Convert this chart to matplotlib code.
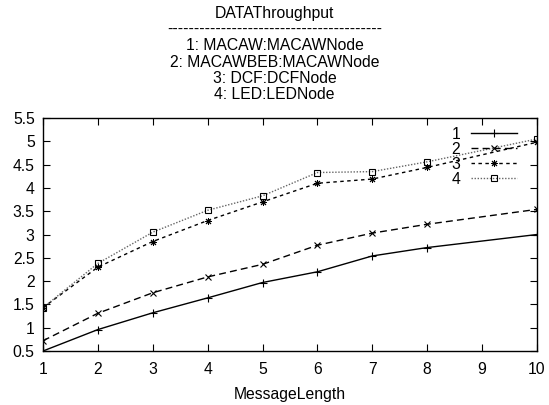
import matplotlib
matplotlib.use("Agg")
import matplotlib.pyplot as plt

plt.rcParams['font.family'] = ['Liberation Sans', 'DejaVu Sans']

# message length on the x axis (no run at 9)
message_length = [1, 2, 3, 4, 5, 6, 7, 8, 10]

# throughput for each MAC protocol
macaw = [0.50, 0.96, 1.32, 1.64, 1.97, 2.20, 2.54, 2.72, 3.00]
macawbeb = [0.72, 1.31, 1.75, 2.09, 2.36, 2.77, 3.03, 3.22, 3.54]
dcf = [1.43, 2.30, 2.85, 3.30, 3.70, 4.10, 4.19, 4.44, 4.98]
led = [1.43, 2.38, 3.05, 3.52, 3.83, 4.33, 4.35, 4.56, 5.05]

series_labels = ["1", "2", "3", "4"]
title_lines = [
    "DATAThroughput",
    "-" * 40,
    "1: MACAW:MACAWNode",
    "2: MACAWBEB:MACAWNode",
    "3: DCF:DCFNode",
    "4: LED:LEDNode",
]
y_ticks = [0.5, 1, 1.5, 2, 2.5, 3, 3.5, 4, 4.5, 5, 5.5]
x_ticks = [1, 2, 3, 4, 5, 6, 7, 8, 9, 10]

FS = 11.3

fig = plt.figure(figsize=(5.49, 4.05), dpi=100)
ax = fig.add_axes([0.0783, 0.1333, 0.8997, 0.5753])

ax.plot(message_length, macaw, color="black", lw=1.0, ls="-",
        marker="+", ms=6, mew=0.8, label=series_labels[0])
ax.plot(message_length, macawbeb, color="black", lw=1.0, ls=(0, (5, 3)),
        marker="x", ms=5, mew=0.8, label=series_labels[1])
ax.plot(message_length, dcf, color="black", lw=1.0, ls=(0, (2.5, 2.5)),
        marker=(8, 2, 0), ms=5, mew=0.7, label=series_labels[2])
ax.plot(message_length, led, color="#666666", lw=1.0, ls=(0, (1, 1.2)),
        marker="s", ms=5, mew=0.8, mfc="none", mec="black",
        label=series_labels[3])

ax.set_xlim(1, 10)
ax.set_ylim(0.5, 5.5)
ax.set_xticks(x_ticks)
ax.set_yticks(y_ticks)
ax.set_yticklabels([f"{v:g}" for v in y_ticks])
ax.tick_params(direction="in", top=True, right=True, length=5, width=0.8,
               labelsize=FS)
ax.tick_params(axis="x", pad=8)
ax.tick_params(axis="y", pad=6)
for s in ax.spines.values():
    s.set_linewidth(1.0)

ax.set_xlabel("MessageLength", fontsize=FS, labelpad=7)

fig.text(0.5, 0.985, "\n".join(title_lines), ha="center", va="top",
         fontsize=FS, linespacing=1.1)

ax.legend(loc="upper right", bbox_to_anchor=(0.9656, 0.977), frameon=False,
          markerfirst=False, fontsize=FS, handlelength=2.9,
          handletextpad=0.7, labelspacing=0.0, borderaxespad=0.0,
          borderpad=0.2)

fig.savefig("out.png", dpi=100)
